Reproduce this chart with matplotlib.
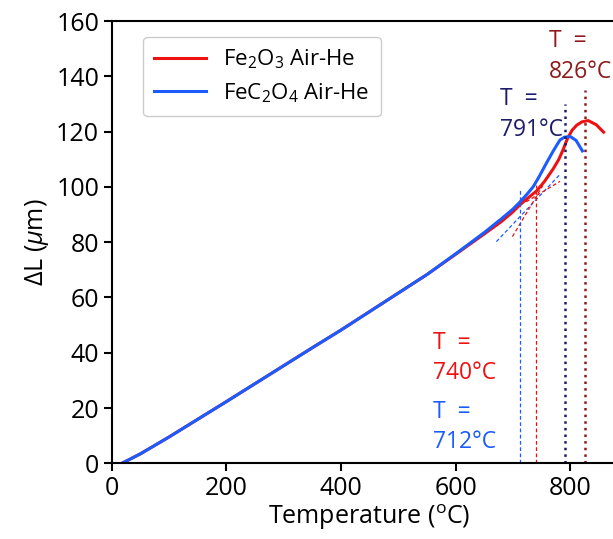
import numpy as np
import matplotlib
matplotlib.use('Agg')
import matplotlib.pyplot as plt

plt.rcParams['font.family'] = ['Open Sans', 'DejaVu Sans']
plt.rcParams['mathtext.fontset'] = 'custom'
plt.rcParams['mathtext.rm'] = 'Open Sans'
plt.rcParams['mathtext.it'] = 'Open Sans:italic'

# Fe2O3 Air-He
temp_fe2o3 = np.array([18, 50, 100, 150, 200, 250, 300, 350, 400, 450, 500, 550, 600, 650,
                       680, 700, 712, 725, 741, 755, 770, 780, 787, 795, 803, 811, 820,
                       831, 845, 858])
dl_fe2o3 = np.array([0, 3.4, 9.5, 15.9, 22.3, 28.8, 35.3, 41.8, 48.2, 54.9, 61.6, 68.3, 75.6, 83,
                     87.5, 91, 93.5, 95.8, 98.5, 102, 106.5, 110, 113.3, 117.5, 120.5, 122.3, 123.5,
                     124, 122.5, 119.8])

# FeC2O4 Air-He
temp_fec2o4 = np.array([18, 50, 100, 150, 200, 250, 300, 350, 400, 450, 500, 550, 600, 650,
                        680, 700, 712, 725, 735, 745, 758, 771, 782, 790, 800, 810, 821])
dl_fec2o4 = np.array([0, 3.4, 9.5, 15.9, 22.3, 28.8, 35.3, 41.8, 48.2, 54.9, 61.6, 68.3, 75.8, 83.5,
                      88.5, 92, 94.5, 97.5, 100, 103.5, 108.5, 113.3, 117, 118, 118.2, 116.8, 113])

# tangentes (pontos extremos)
tan_blue_t, tan_blue_dl = [671, 781], [80.2, 104.3]
tan_red1_t, tan_red1_dl = [699, 752], [82, 100.5]
tan_red2_t, tan_red2_dl = [723, 782], [94.6, 102]

# temperaturas de transição e altura das linhas verticais
t_onset_blue, h_onset_blue = 712, 99.5
t_onset_red, h_onset_red = 740, 100.6
t_peak_blue, h_peak_blue = 791, 130
t_peak_red, h_peak_red = 826, 135

red = '#ee1111'
blue = '#1a5cff'
navy = '#1c1c6b'
darkred = '#8e1b1b'

fig = plt.figure(figsize=(6.13, 5.39), dpi=100)
ax = fig.add_axes([0.182, 0.1404, 0.842, 0.8206])

ax.plot(temp_fe2o3, dl_fe2o3, color=red, lw=2.2, label='Fe$_2$O$_3$ Air-He')
ax.plot(temp_fec2o4, dl_fec2o4, color=blue, lw=2.2, label='FeC$_2$O$_4$ Air-He')

ax.plot(tan_blue_t, tan_blue_dl, color=blue, lw=0.9, ls='--', dashes=(3, 2))
ax.plot(tan_red1_t, tan_red1_dl, color=red, lw=0.9, ls='--', dashes=(3, 2))
ax.plot(tan_red2_t, tan_red2_dl, color=red, lw=0.9, ls='--', dashes=(3, 2))

ax.plot([t_onset_blue] * 2, [0, h_onset_blue], color=blue, lw=0.9, ls='--', dashes=(3, 2))
ax.plot([t_onset_red] * 2, [0, h_onset_red], color=red, lw=0.9, ls='--', dashes=(3, 2))
ax.plot([t_peak_blue] * 2, [0, h_peak_blue], color=navy, lw=1.8, ls=':')
ax.plot([t_peak_red] * 2, [0, h_peak_red], color=darkred, lw=1.8, ls=':')

fs_txt = 16.5
ax.text(762, 157, 'T  =\n826°C', color=darkred, fontsize=fs_txt, va='top', linespacing=1.35)
ax.text(677, 136, 'T  =\n791°C', color=navy, fontsize=fs_txt, va='top', linespacing=1.35)
ax.text(560, 48, 'T  =\n740°C', color=red, fontsize=fs_txt, va='top', linespacing=1.35)
ax.text(560, 23, 'T  =\n712°C', color=blue, fontsize=fs_txt, va='top', linespacing=1.35)

fs = 18
ax.set_xlim(0, 900)
ax.set_ylim(0, 160)
ax.set_xticks([0, 200, 400, 600, 800])
ax.set_yticks(np.arange(0, 161, 20))
ax.tick_params(labelsize=fs, width=1.5, length=6, pad=3)
for s in ax.spines.values():
    s.set_linewidth(1.5)

ax.set_xlabel('Temperature ($^{\\mathrm{o}}$C)', fontsize=fs, labelpad=1)
ax.set_ylabel('ΔL ($\\mu$m)', fontsize=fs, labelpad=4)

ax.legend(loc='upper left', bbox_to_anchor=(0.04, 0.99), fontsize=16,
          handlelength=2.3, borderpad=0.5, labelspacing=0.45, handletextpad=0.8,
          framealpha=1)

fig.savefig('out.png', dpi=100)
